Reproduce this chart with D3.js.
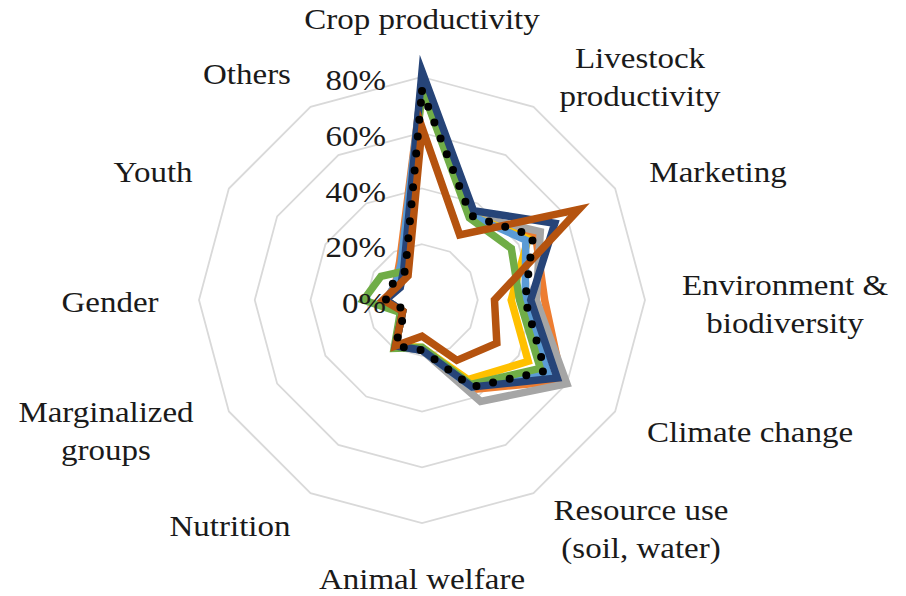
<!DOCTYPE html>
<html>
<head>
<meta charset="utf-8">
<script src="https://cdn.jsdelivr.net/npm/d3@7"></script>
<style>
  html, body { margin: 0; padding: 0; background: #fff; }
  svg { display: block; }
  text { font-family: "Liberation Serif", "Times New Roman", serif; fill: #1a1a1a; }
</style>
</head>
<body>
<div id="chart"></div>
<script>
// Axis categories (clockwise from top)
const categories = [
  "Crop productivity", "Livestock productivity", "Marketing",
  "Environment & biodiversity", "Climate change", "Resource use (soil, water)",
  "Animal welfare", "Nutrition", "Marginalized groups", "Gender", "Youth", "Others"
];

// Wrapped label lines, as shown in the picture
const labelLines = [
  ["Crop productivity"], ["Livestock", "productivity"], ["Marketing"],
  ["Environment &", "biodiversity"], ["Climate change"], ["Resource use", "(soil, water)"],
  ["Animal welfare"], ["Nutrition"], ["Marginalized", "groups"], ["Gender"], ["Youth"], ["Others"]
];

const tickValues = [0, 0.2, 0.4, 0.6, 0.8];

// Series values (share of responses per category)
const seriesOrange    = [0.77, 0.35, 0.47, 0.44, 0.58, 0.37, 0.18, 0.19, 0.08, 0.13, 0.11, 0.16];
const seriesGray      = [0.77, 0.35, 0.49, 0.41, 0.60, 0.42, 0.18, 0.19, 0.08, 0.13, 0.10, 0.13];
const seriesYellow    = [0.76, 0.35, 0.44, 0.32, 0.44, 0.33, 0.17, 0.19, 0.08, 0.13, 0.10, 0.13];
const seriesLightBlue = [0.78, 0.35, 0.43, 0.37, 0.52, 0.36, 0.18, 0.19, 0.08, 0.13, 0.11, 0.15];
const seriesGreen     = [0.76, 0.34, 0.37, 0.35, 0.49, 0.35, 0.17, 0.20, 0.09, 0.21, 0.17, 0.12];
const seriesDarkBlue  = [0.82, 0.37, 0.55, 0.39, 0.56, 0.36, 0.18, 0.19, 0.08, 0.13, 0.09, 0.13];
const seriesBrown     = [0.62, 0.27, 0.65, 0.26, 0.31, 0.25, 0.13, 0.19, 0.08, 0.14, 0.10, 0.10];
const seriesAverage   = [0.75, 0.35, 0.46, 0.37, 0.51, 0.36, 0.18, 0.19, 0.07, 0.13, 0.12, 0.12];

const series = [
  { name: "Series 1", values: seriesOrange, color: "#ed7d31" },
  { name: "Series 2", values: seriesGray, color: "#a5a5a5" },
  { name: "Series 3", values: seriesYellow, color: "#ffc000" },
  { name: "Series 4", values: seriesLightBlue, color: "#5b9bd5" },
  { name: "Series 5", values: seriesGreen, color: "#70ad47" },
  { name: "Series 6", values: seriesDarkBlue, color: "#264478" },
  { name: "Series 7", values: seriesBrown, color: "#b5530f" },
  { name: "Average", values: seriesAverage, color: "#000", dotted: true }
];

const config = {
  width: 906,
  height: 596,
  cx: 422,
  cy: 300,
  radius: 223, // radius of the 80% ring
  fontSize: 30,
  stretch: 1.1,
  lineGap: 38
};

const { width, height, cx, cy, radius, fontSize, stretch, lineGap } = config;

const svg = d3.select("#chart")
  .append("svg")
  .attr("width", width)
  .attr("height", height);

const g = svg.append("g").attr("transform", `translate(${cx},${cy})`);

// Scales
const rScale = d3.scaleLinear().domain([0, 0.8]).range([0, radius]);
const angle = d3.scaleLinear().domain([0, categories.length]).range([0, 2 * Math.PI]);

const radarLine = d3.lineRadial()
  .angle((d, i) => angle(i))
  .radius(d => rScale(d))
  .curve(d3.curveLinearClosed);

// Grid rings
g.selectAll(".ring")
  .data(tickValues.filter(t => t > 0))
  .enter()
  .append("path")
  .attr("class", "ring")
  .attr("d", t => radarLine(categories.map(() => t)))
  .attr("fill", "none")
  .attr("stroke", "#d9d9d9")
  .attr("stroke-width", 1.8);

// Series lines
g.selectAll(".series")
  .data(series)
  .enter()
  .append("path")
  .attr("class", "series")
  .attr("d", d => radarLine(d.values))
  .attr("fill", "none")
  .attr("stroke", d => d.color)
  .attr("stroke-width", d => d.dotted ? 8 : 7.5)
  .attr("stroke-linejoin", d => d.dotted ? "round" : "miter")
  .attr("stroke-miterlimit", 10)
  .attr("stroke-linecap", d => d.dotted ? "round" : "butt")
  .attr("stroke-dasharray", d => d.dotted ? "0 17" : null);

// Tick labels on the vertical axis
g.selectAll(".tick-label")
  .data(tickValues)
  .enter()
  .append("text")
  .attr("class", "tick-label")
  .attr("text-anchor", "end")
  .attr("transform", t => `translate(-36,${-rScale(t) + 13}) scale(${stretch},1)`)
  .style("font-size", fontSize + "px")
  .text(d3.format(".0%"));

// Category labels (centre of each label block, relative to the chart centre)
const labelPos = [
  [0, -281], [218, -223], [296, -128], [363, 4], [328, 132], [219, 229],
  [0, 279], [-192, 226], [-316, 131], [-312, 2], [-269, -128], [-175, -226]
];

const labels = g.selectAll(".cat-label")
  .data(categories)
  .enter()
  .append("g")
  .attr("class", "cat-label")
  .attr("transform", (d, i) => `translate(${labelPos[i][0]},${labelPos[i][1]}) scale(${stretch},1)`);

labels.each(function (d, i) {
  const lines = labelLines[i];
  const t = d3.select(this).append("text")
    .attr("text-anchor", "middle")
    .style("font-size", fontSize + "px");
  lines.forEach((line, j) => {
    t.append("tspan")
      .attr("x", 0)
      .attr("y", (j - (lines.length - 1) / 2) * lineGap + 10)
      .text(line);
  });
});
</script>
</body>
</html>
